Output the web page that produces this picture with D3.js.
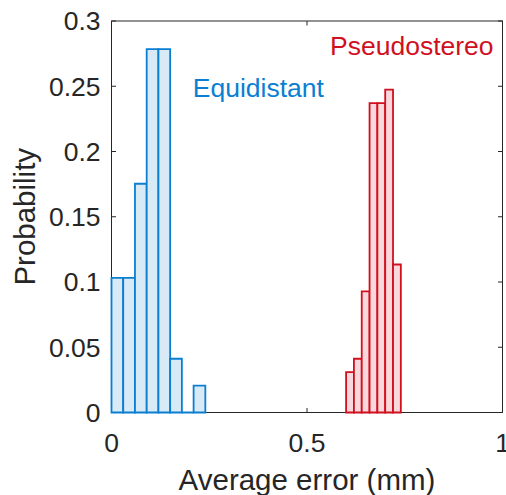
<!DOCTYPE html>
<html lang="en">
    <head>
        <meta charset="utf-8">
        <title>Average error histogram</title>
        <script src="https://d3js.org/d3.v7.min.js"></script>
        <style type="text/css">
            body { margin: 0; background: #fff; }
            text { font-family: "Liberation Sans", Arial, sans-serif; fill: #262626; }
        </style>
    </head>
    <body>
        <script type="text/javascript">

            // histogram data (bin edges + probability per bin)
            var equiEdges = [0, 0.03, 0.06, 0.09, 0.12, 0.15, 0.18, 0.21, 0.24];
            var equiProb = [0.1031, 0.1031, 0.1753, 0.2784, 0.2784, 0.0412, 0, 0.0206];
            var pseudoEdges = [0.60, 0.62, 0.64, 0.66, 0.68, 0.70, 0.72, 0.74];
            var pseudoProb = [0.0309, 0.0412, 0.0928, 0.2371, 0.2371, 0.2474, 0.1134];
            var xTicks = [0, 0.5, 1];
            var yTicks = [0, 0.05, 0.1, 0.15, 0.2, 0.25, 0.3];

            //set the scale of graph
            var margin = {top: 21, right: 3.5, bottom: 82.5, left: 111.5},
                width = 506 - margin.left - margin.right,
                height = 495 - margin.top - margin.bottom;

            var xScale = d3.scaleLinear().domain([0, 1]).range([0, width]);
            var yScale = d3.scaleLinear().domain([0, 0.3]).range([height, 0]);

            var svg = d3.select("body").append("svg")
                .attr("width", 506)
                .attr("height", 495)
                .append("g")
                .attr("transform", "translate(" + margin.left + "," + margin.top + ")");

            // turn edges + values into bins
            function bins(edges, probs) {
                return probs.map(function(p, i) {
                    return {x0: edges[i], x1: edges[i + 1], p: p};
                });
            }

            // bars drawn as paths so zero-height bins still show their outline
            function drawHist(data, stroke, fill) {
                svg.append("g").selectAll("path")
                    .data(data)
                    .enter().append("path")
                    .attr("d", function(d) {
                        var a = xScale(d.x0), b = xScale(d.x1), y0 = yScale(0), y1 = yScale(d.p);
                        return "M" + a + "," + y0 + "V" + y1 + "H" + b + "V" + y0 + "Z";
                    })
                    .style("fill", fill)
                    .style("stroke", stroke)
                    .style("stroke-width", 1.8);
            }

            // axes box
            svg.append("rect")
                .attr("width", width)
                .attr("height", height)
                .style("fill", "none")
                .style("stroke", "#262626")
                .style("stroke-width", 1);

            // inward ticks on all four sides
            var tl = 4.5;
            svg.selectAll(".xt").data(xTicks).enter().append("path")
                .attr("d", function(d) {
                    var x = xScale(d);
                    return "M" + x + "," + height + "V" + (height - tl) + "M" + x + ",0V" + tl;
                })
                .style("stroke", "#262626");
            svg.selectAll(".yt").data(yTicks).enter().append("path")
                .attr("d", function(d) {
                    var y = yScale(d);
                    return "M0," + y + "H" + tl + "M" + width + "," + y + "H" + (width - tl);
                })
                .style("stroke", "#262626");

            drawHist(bins(equiEdges, equiProb), "#0a7fd2", "#d9eaf7");
            drawHist(bins(pseudoEdges, pseudoProb), "#d0101f", "#f8d8dc");

            // tick labels
            svg.selectAll(".xl").data(xTicks).enter().append("text")
                .attr("x", function(d) { return xScale(d); })
                .attr("y", height + 39)
                .style("text-anchor", "middle")
                .style("font-size", "26.5px")
                .text(function(d) { return d; });
            svg.selectAll(".yl").data(yTicks).enter().append("text")
                .attr("x", -11)
                .attr("y", function(d) { return yScale(d); })
                .attr("dy", "0.35em")
                .style("text-anchor", "end")
                .style("font-size", "26.5px")
                .text(function(d) { return d; });

            // axis labels
            svg.append("text")
                .attr("x", width / 2)
                .attr("y", height + 77.5)
                .style("text-anchor", "middle")
                .style("font-size", "29.5px")
                .text("Average error (mm)");
            svg.append("text")
                .attr("transform", "translate(" + (35 - margin.left) + "," + (height / 2) + ") rotate(-90)")
                .style("text-anchor", "middle")
                .style("font-size", "29.5px")
                .text("Probability");

            // series annotations
            svg.append("text")
                .attr("x", xScale(0.208))
                .attr("y", yScale(0.2417))
                .style("font-size", "26.5px")
                .style("fill", "#0a7fd2")
                .text("Equidistant");
            svg.append("text")
                .attr("x", xScale(0.559))
                .attr("y", yScale(0.2738))
                .style("font-size", "26.5px")
                .style("fill", "#d0101f")
                .text("Pseudostereo");
        </script>
    </body>
</html>
